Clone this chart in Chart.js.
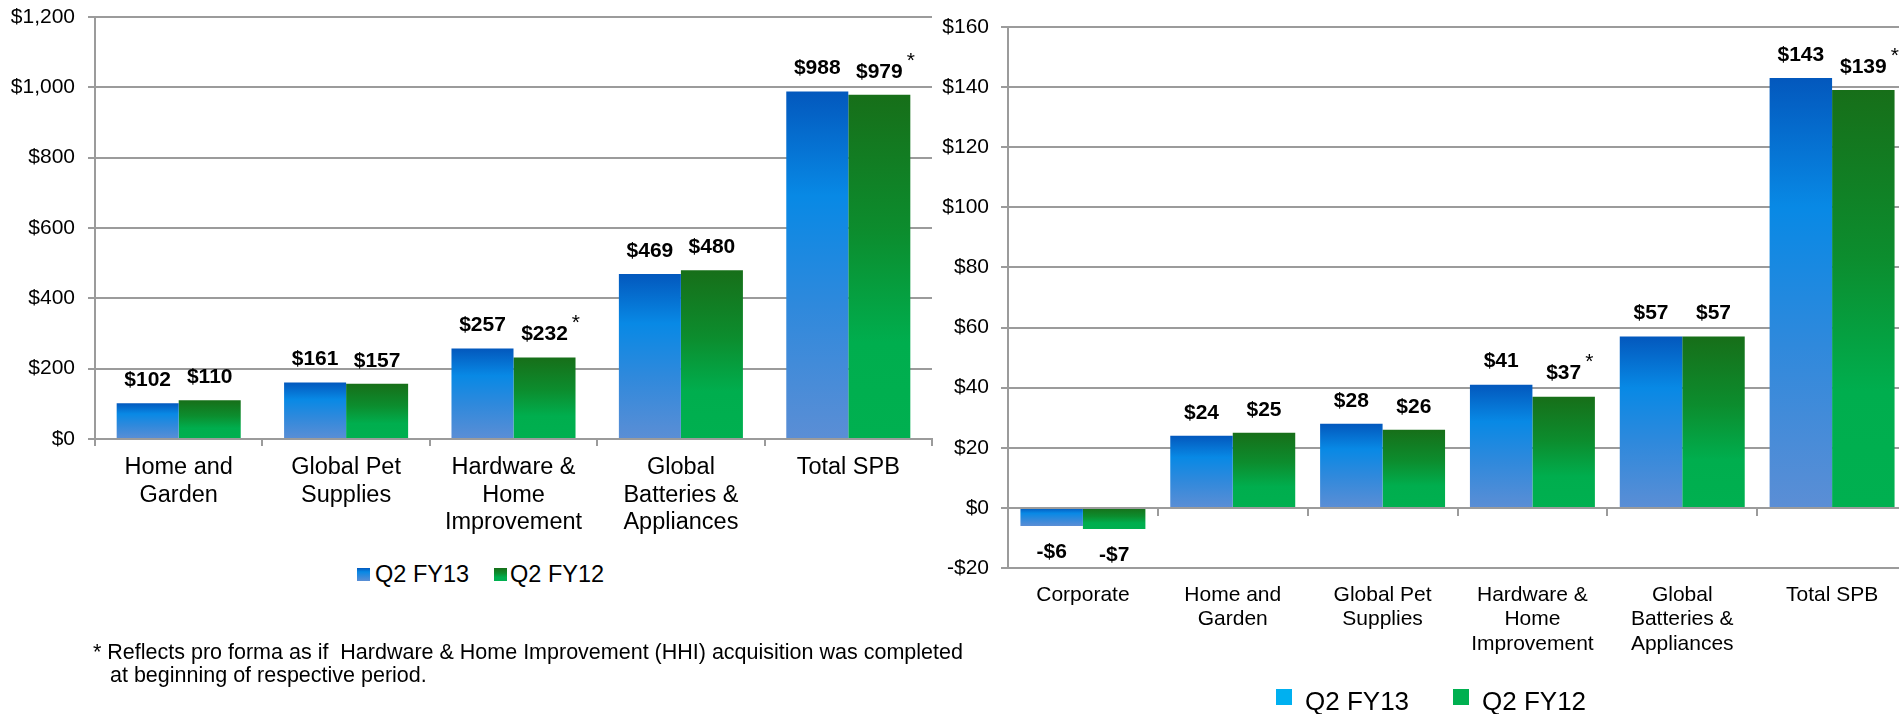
<!DOCTYPE html>
<html>
<head>
<meta charset="utf-8">
<title>Net Sales and Adjusted EBITDA</title>
<script src="https://cdn.jsdelivr.net/npm/chart.js@4.4.1/dist/chart.umd.min.js"></script>
<style>
  html, body { margin: 0; padding: 0; background: #fff; }
  body {
    position: relative; width: 1899px; height: 714px; overflow: hidden;
    font-family: 'Liberation Sans', Arial, sans-serif; color: #000;
  }
  canvas { position: absolute; top: 0; }
  #chart-sales  { left: 0; }
  #chart-ebitda { left: 930px; }
  .swatch { position: absolute; }
  .legend-text, .note { position: absolute; white-space: pre; line-height: 1; }
  .note { font-size: 21.5px; }
</style>
</head>
<body>
<canvas id="chart-sales" width="940" height="560"></canvas>
<canvas id="chart-ebitda" width="980" height="714"></canvas>
<div id="legends"></div>
<div class="note" style="left:93px; top:642px;">* Reflects pro forma as if  Hardware &amp; Home Improvement (HHI) acquisition was completed</div>
<div class="note" style="left:110px; top:665px;">at beginning of respective period.</div>

<script>
/* ─── Data ───────────────────────────────────── */
const seriesNames = ['Q2 FY13', 'Q2 FY12'];

const salesCategories = [
  ['Home and', 'Garden'],
  ['Global Pet', 'Supplies'],
  ['Hardware &', 'Home', 'Improvement'],
  ['Global', 'Batteries &', 'Appliances'],
  'Total SPB'
];
const salesFY13 = [102, 161, 257, 469, 988];
const salesFY12 = [110, 157, 232, 480, 979];
const salesFY12ProForma = [false, false, true, false, true];
const salesTicks = [0, 200, 400, 600, 800, 1000, 1200];

const ebitdaCategories = [
  'Corporate',
  ['Home and', 'Garden'],
  ['Global Pet', 'Supplies'],
  ['Hardware &', 'Home', 'Improvement'],
  ['Global', 'Batteries &', 'Appliances'],
  'Total SPB'
];
const ebitdaFY13 = [-6, 24, 28, 41, 57, 143];
const ebitdaFY12 = [-7, 25, 26, 37, 57, 139];
const ebitdaFY12ProForma = [false, false, false, true, false, true];
const ebitdaTicks = [-20, 0, 20, 40, 60, 80, 100, 120, 140, 160];

/* ─── Shared defaults ────────────────────────── */
const FONT = "'Liberation Sans', Arial, sans-serif";
const GRID = '#9b9b9b';
Chart.defaults.font.family = FONT;
Chart.defaults.color = '#000';

const blueStops  = [[0, '#0358BD'], [0.3, '#0889E5'], [0.62, '#2F89DC'], [1, '#5B8ED5']];
const greenStops = [[0, '#176F19'], [0.4, '#0C8D2E'], [0.72, '#00AE4E'], [1, '#00B050']];

// each bar gets its own top-to-bottom gradient
function barFill(stops) {
  return (c) => {
    const chart = c.chart;
    if (c.type !== 'data' || !chart.chartArea) return stops[stops.length - 1][1];
    const y = chart.scales.y;
    const a = y.getPixelForValue(c.raw);
    const b = y.getPixelForValue(0);
    const g = chart.ctx.createLinearGradient(0, Math.min(a, b), 0, Math.max(a, b) + 0.01);
    stops.forEach(([o, col]) => g.addColorStop(o, col));
    return g;
  };
}

const money = v => (v < 0 ? '-$' : '$') + Math.abs(v).toLocaleString('en-US');

/* value labels above (or below) each bar, with pro forma asterisk */
const valueLabels = {
  id: 'valueLabels',
  afterDatasetsDraw(chart) {
    const { ctx } = chart;
    ctx.save();
    ctx.fillStyle = '#000';
    ctx.textBaseline = 'middle';
    chart.data.datasets.forEach((ds, i) => {
      chart.getDatasetMeta(i).data.forEach((bar, j) => {
        const v = ds.data[j];
        const text = money(v);
        const y = v < 0 ? bar.y + 26 : bar.y - 23;
        ctx.font = `bold 21px ${FONT}`;
        ctx.textAlign = 'center';
        ctx.fillText(text, bar.x, y);
        if (ds.proForma && ds.proForma[j]) {
          const w = ctx.measureText(text).width;
          ctx.font = `21px ${FONT}`;
          ctx.textAlign = 'left';
          ctx.fillText('*', bar.x + w / 2 + 4, y - 11);
        }
      });
    });
    ctx.restore();
  }
};

function datasets(fy13, fy12, proForma) {
  return [
    { label: seriesNames[0], data: fy13, backgroundColor: barFill(blueStops), borderWidth: 0 },
    { label: seriesNames[1], data: fy12, backgroundColor: barFill(greenStops), borderWidth: 0, proForma }
  ];
}

const basePlugins = { legend: { display: false }, tooltip: { enabled: false } };

/* ═══════════════════════════════════════════════
   1. Net sales
═══════════════════════════════════════════════ */
new Chart(document.getElementById('chart-sales'), {
  type: 'bar',
  data: { labels: salesCategories, datasets: datasets(salesFY13, salesFY12, salesFY12ProForma) },
  options: {
    responsive: false,
    animation: false,
    layout: { padding: { left: 0, top: 17, right: 8, bottom: 0 } },
    datasets: { bar: { categoryPercentage: 0.741, barPercentage: 1 } },
    plugins: basePlugins,
    scales: {
      x: {
        offset: true,
        grid: { drawOnChartArea: false, drawTicks: true, tickLength: 7, color: GRID, lineWidth: 2, offset: true },
        border: { color: GRID, width: 2 },
        ticks: { font: { size: 23.5, lineHeight: 1.17 }, padding: 8, maxRotation: 0, autoSkip: false },
        afterFit: s => { s.height = 121; }
      },
      y: {
        min: salesTicks[0],
        max: salesTicks[salesTicks.length - 1],
        afterBuildTicks: s => { s.ticks = salesTicks.map(v => ({ value: v })); },
        grid: { color: GRID, lineWidth: 2, tickLength: 7 },
        border: { color: GRID, width: 2 },
        ticks: { font: { size: 21 }, padding: 13, callback: v => money(v) },
        // fixed axis width; the top label may overhang into the padding
        afterFit: s => { s.width = 95; s.paddingTop = 0; }
      }
    }
  },
  plugins: [valueLabels]
});

/* ═══════════════════════════════════════════════
   2. Adjusted EBITDA
═══════════════════════════════════════════════ */
new Chart(document.getElementById('chart-ebitda'), {
  type: 'bar',
  data: { labels: ebitdaCategories, datasets: datasets(ebitdaFY13, ebitdaFY12, ebitdaFY12ProForma) },
  options: {
    responsive: false,
    animation: false,
    layout: { padding: { left: 0, top: 27, right: 3, bottom: 0 } },
    datasets: { bar: { categoryPercentage: 0.834, barPercentage: 1 } },
    plugins: basePlugins,
    scales: {
      x: {
        offset: true,
        grid: { display: false, drawTicks: false },
        border: { display: false },
        ticks: { font: { size: 21, lineHeight: 1.16 }, padding: 15, maxRotation: 0, autoSkip: false },
        afterFit: s => { s.height = 146; }
      },
      // category axis line and tick marks sitting on the zero line
      zero: {
        type: 'category',
        axis: 'x',
        position: { y: 0 },
        offset: true,
        grid: { drawOnChartArea: false, drawTicks: true, tickLength: 7, color: GRID, lineWidth: 2, offset: true },
        border: { color: GRID, width: 2 },
        ticks: { display: false }
      },
      y: {
        min: ebitdaTicks[0],
        max: ebitdaTicks[ebitdaTicks.length - 1],
        afterBuildTicks: s => { s.ticks = ebitdaTicks.map(v => ({ value: v })); },
        grid: { color: GRID, lineWidth: 2, tickLength: 7 },
        border: { color: GRID, width: 2 },
        ticks: { font: { size: 21 }, padding: 12, callback: v => money(v) },
        afterFit: s => { s.width = 78; s.paddingTop = 0; }
      }
    }
  },
  plugins: [valueLabels]
});

/* ─── Legends ────────────────────────────────── */
function cssGradient(stops) {
  return 'linear-gradient(to bottom, ' + stops.map(([o, c]) => `${c} ${o * 100}%`).join(', ') + ')';
}

function addLegend(items) {
  const host = document.getElementById('legends');
  items.forEach(it => {
    const sw = document.createElement('div');
    sw.className = 'swatch';
    Object.assign(sw.style, {
      left: it.sx + 'px', top: it.sy + 'px', width: it.size + 'px', height: it.size + 'px', background: it.fill
    });
    host.appendChild(sw);
    const tx = document.createElement('div');
    tx.className = 'legend-text';
    tx.textContent = it.text;
    Object.assign(tx.style, { left: it.tx + 'px', top: it.ty + 'px', fontSize: it.fs + 'px' });
    host.appendChild(tx);
  });
}

addLegend([
  { text: seriesNames[0], sx: 357, sy: 568, size: 13, fill: cssGradient(blueStops),  tx: 375, ty: 563, fs: 23.5 },
  { text: seriesNames[1], sx: 494, sy: 568, size: 13, fill: cssGradient(greenStops), tx: 510, ty: 563, fs: 23.5 }
]);
addLegend([
  { text: seriesNames[0], sx: 1276, sy: 689, size: 16, fill: '#00B0F0', tx: 1305, ty: 688, fs: 26 },
  { text: seriesNames[1], sx: 1453, sy: 689, size: 16, fill: '#00B050', tx: 1482, ty: 688, fs: 26 }
]);
</script>
</body>
</html>
